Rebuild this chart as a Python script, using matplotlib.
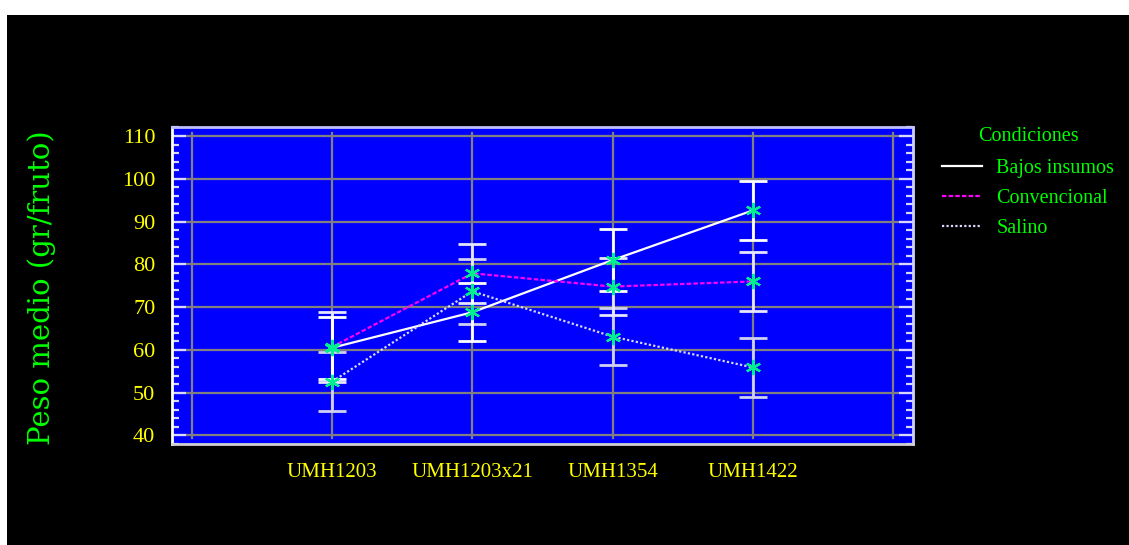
import matplotlib
matplotlib.use("Agg")
import matplotlib.pyplot as plt
from matplotlib.patches import Rectangle
from matplotlib.ticker import MultipleLocator
import numpy as np

categories = ['UMH1203', 'UMH1203x21', 'UMH1354', 'UMH1422']
bajos = [60.5, 68.8, 81.0, 92.6]
bajos_err = [7.2, 6.8, 7.2, 6.95]
conv = [60.7, 77.9, 74.8, 76.0]
conv_err = [8.1, 6.9, 6.7, 6.9]
salino = [52.6, 73.7, 63.1, 55.9]
salino_err = [6.9, 7.6, 6.7, 6.85]
series_names = ['Bajos insumos', 'Convencional', 'Salino']
y_ticks = [40, 50, 60, 70, 80, 90, 100, 110]

W, H = 1129, 545
fig = plt.figure(figsize=(W / 100, H / 100), dpi=100, facecolor='white')
fig.patches.append(Rectangle((7 / W, 0), 1 - 7 / W, (H - 15) / H,
                             transform=fig.transFigure, facecolor='black',
                             edgecolor='none', zorder=-10))

ax = fig.add_axes([172 / W, 1 - 444 / H, (913 - 172) / W, (444 - 127) / H])
ax.set_facecolor('#0000ff')

x = np.arange(1, len(categories) + 1)
ylo, yhi = 38.0, 112.1
ax.set_xlim(-0.143, 5.143)
ax.set_ylim(ylo, yhi)

# grid
for gy in y_ticks:
    ax.axhline(gy, color='#808080', lw=1.6, zorder=1)
for gx in range(0, 6):
    ax.axvline(gx, ymin=(39.3 - ylo) / (yhi - ylo), ymax=(110.7 - ylo) / (yhi - ylo),
               color='#808080', lw=1.6, zorder=1)

mk = dict(marker=(6, 2, 0), markersize=11, markeredgewidth=1.6,
          markeredgecolor='#00f090', markerfacecolor='#00f090')

ax.errorbar(x, salino, yerr=salino_err, fmt='none', ecolor='#d0d0f0',
            elinewidth=2, capsize=10, capthick=2, zorder=3)
ax.errorbar(x, conv, yerr=conv_err, fmt='none', ecolor='#e6e6ff',
            elinewidth=2, capsize=10, capthick=2, zorder=3)
ax.errorbar(x, bajos, yerr=bajos_err, fmt='none', ecolor='white',
            elinewidth=2, capsize=10, capthick=2, zorder=3)

l1, = ax.plot(x, bajos, color='white', lw=1.6, ls='-', zorder=4)
l2, = ax.plot(x, conv, color='#ff00ff', lw=1.6, ls=(0, (2, 1)), zorder=4)
l3, = ax.plot(x, salino, color='#d8d8ff', lw=1.6, ls=(0, (1, 1)), zorder=4)
for s in (bajos, conv, salino):
    ax.plot(x, s, ls='none', zorder=5, **mk)

serif = ['Liberation Serif', 'DejaVu Serif']
ax.set_xticks(x)
ax.set_xticklabels(categories, family=serif, fontsize=15, color='#ffff00')
ax.set_yticks(y_ticks)
ax.set_yticklabels([str(v) for v in y_ticks], family=serif, fontsize=16, color='#ffff00')
ax.yaxis.set_minor_locator(MultipleLocator(2))
ax.tick_params(axis='x', length=0, pad=14)
ax.tick_params(axis='y', which='major', direction='in', length=10, width=1.6,
               colors='#d8d8ff', left=True, right=True, pad=12)
ax.tick_params(axis='y', which='minor', direction='in', length=5, width=1.6,
               colors='#d8d8ff', left=True, right=True)
for lab in ax.get_yticklabels():
    lab.set_color('#ffff00')
for lab in ax.get_xticklabels():
    lab.set_color('#ffff00')

ax.spines['left'].set_color('white')
ax.spines['top'].set_color('#c0c0ff')
ax.spines['bottom'].set_color('#d0d0d0')
ax.spines['right'].set_color('#d0d0ff')
for sp in ax.spines.values():
    sp.set_linewidth(2)

fig.text(42 / W, 1 - 288 / H, 'Peso medio (gr/fruto)', rotation=90,
         ha='center', va='center', color='#00ff00', fontsize=21,
         family=['DejaVu Serif'])

leg = fig.legend([l1, l2, l3], series_names, loc='upper left',
                 bbox_to_anchor=(942 / W, 1 - 127 / H), frameon=False,
                 title='Condiciones', prop={'family': serif, 'size': 14.5},
                 title_fontproperties={'family': serif, 'size': 14.5},
                 handlelength=2.0, handletextpad=0.7, labelspacing=0.55,
                 borderaxespad=0, borderpad=0)
leg._legend_box.sep = 9
leg.get_title().set_color('#00ff00')
for t in leg.get_texts():
    t.set_color('#00ff00')

fig.savefig('out.png', dpi=100, facecolor=fig.get_facecolor())
